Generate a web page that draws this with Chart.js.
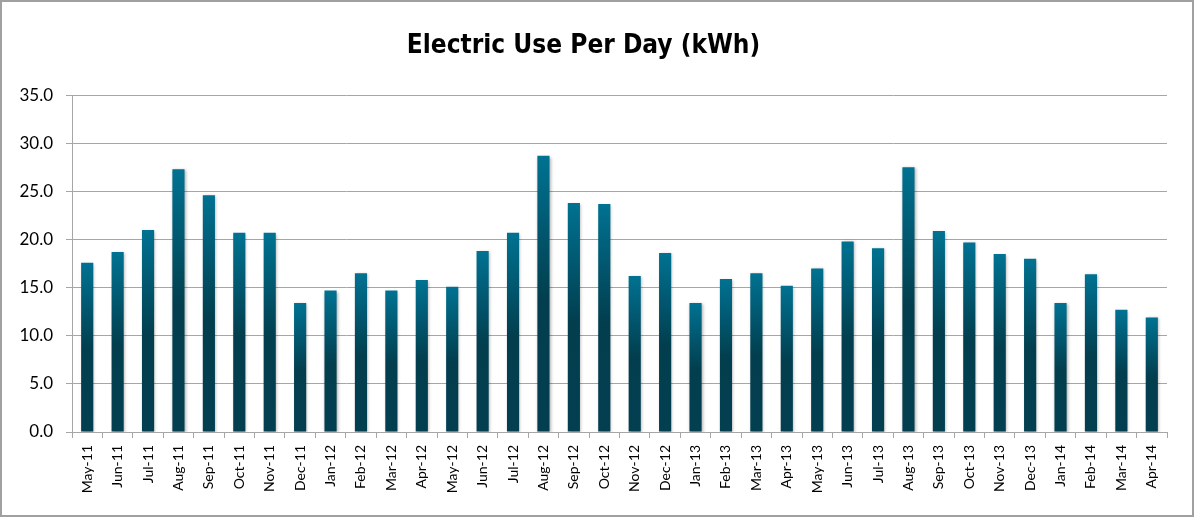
<!DOCTYPE html>
<html>
<head>
<meta charset="utf-8">
<title>Electric Use Per Day (kWh)</title>
<script src="https://cdn.jsdelivr.net/npm/chart.js@4.4.1/dist/chart.umd.min.js"></script>
<style>
  html, body { margin: 0; padding: 0; background: #fff; }
  #wrap { width: 1196px; height: 517px; position: relative; }
</style>
</head>
<body>
<div id="wrap"><canvas id="myChart"></canvas></div>
<script>
const months = ['May-11', 'Jun-11', 'Jul-11', 'Aug-11', 'Sep-11', 'Oct-11', 'Nov-11', 'Dec-11',
  'Jan-12', 'Feb-12', 'Mar-12', 'Apr-12', 'May-12', 'Jun-12', 'Jul-12', 'Aug-12', 'Sep-12', 'Oct-12',
  'Nov-12', 'Dec-12', 'Jan-13', 'Feb-13', 'Mar-13', 'Apr-13', 'May-13', 'Jun-13', 'Jul-13', 'Aug-13',
  'Sep-13', 'Oct-13', 'Nov-13', 'Dec-13', 'Jan-14', 'Feb-14', 'Mar-14', 'Apr-14'];

const kwhPerDay = [17.6, 18.7, 21.0, 27.3, 24.6, 20.7, 20.7, 13.4,
  14.7, 16.5, 14.7, 15.8, 15.1, 18.8, 20.7, 28.7, 23.8, 23.7,
  16.2, 18.6, 13.4, 15.9, 16.5, 15.2, 17.0, 19.8, 19.1, 27.5,
  20.9, 19.7, 18.5, 18.0, 13.4, 16.4, 12.7, 11.9];

const yTicks = [0, 5, 10, 15, 20, 25, 30, 35];

const gridGray = '#a6a6a6';

// per-bar gradient: teal at the top, dark by about the middle
function barFill(context) {
  if (context.type !== 'data') return '#023e4e';
  const chart = context.chart;
  const y = chart.scales.y;
  if (!y) return '#023e4e';
  const top = y.getPixelForValue(context.raw);
  const base = y.getPixelForValue(0);
  if (!isFinite(top) || !isFinite(base) || top === base) return '#023e4e';
  const g = chart.ctx.createLinearGradient(0, top, 0, base);
  g.addColorStop(0, '#007292');
  g.addColorStop(0.52, '#023e4e');
  g.addColorStop(1, '#033f50');
  return g;
}

const frame = {
  id: 'frame',
  beforeDatasetsDraw(chart) {
    const c = chart.ctx;
    c.save();
    c.shadowColor = 'rgba(0,0,0,0.3)';
    c.shadowBlur = 3;
    c.shadowOffsetX = 1;
    c.shadowOffsetY = 1;
  },
  afterDatasetsDraw(chart) {
    chart.ctx.restore();
  },
  afterDraw(chart) {
    const c = chart.ctx;
    c.save();
    c.strokeStyle = '#a0a0a0';
    c.lineWidth = 2;
    c.strokeRect(1, 1, chart.width - 4, chart.height - 2);
    c.restore();
  }
};

const ctx = document.getElementById('myChart');

const chart = new Chart(ctx, {
  type: 'bar',
  data: {
    labels: months,
    datasets: [{
      label: 'kWh per day',
      data: kwhPerDay,
      backgroundColor: barFill,
      borderWidth: 0,
      barPercentage: 0.4,
      categoryPercentage: 1.0
    }]
  },
  options: {
    responsive: true,
    maintainAspectRatio: false,
    animation: false,
    layout: { padding: { left: 0, right: 29, top: 0, bottom: 0 } },
    plugins: {
      legend: { display: false },
      tooltip: { enabled: false },
      title: {
        display: true,
        text: 'Electric Use Per Day (kWh)',
        color: '#000',
        font: { family: '"DejaVu Sans Condensed", Roboto, sans-serif', size: 26, weight: 'bold', lineHeight: 1.2 },
        padding: { top: 31, bottom: 33 }
      }
    },
    scales: {
      x: {
        grid: {
          offset: true,
          drawOnChartArea: false,
          drawTicks: true,
          tickLength: 6,
          color: gridGray
        },
        border: { color: gridGray, width: 1 },
        ticks: {
          autoSkip: false,
          maxRotation: 90,
          minRotation: 90,
          padding: 7,
          color: '#000',
          font: { family: 'Lato, "Open Sans", sans-serif', size: 14 }
        },
        afterFit(scale) { scale.height = 85; }
      },
      y: {
        min: 0,
        max: 35,
        afterBuildTicks(scale) { scale.ticks = yTicks.map(v => ({ value: v })); },
        grid: {
          color: gridGray,
          tickLength: 6,
          lineWidth: 1
        },
        border: { color: gridGray, width: 1 },
        ticks: {
          padding: 13,
          color: '#000',
          font: { family: 'Lato, "Open Sans", sans-serif', size: 17 },
          callback: v => Number(v).toFixed(1)
        },
        afterFit(scale) { scale.width = 72; }
      }
    }
  },
  plugins: [frame]
});
// second pass so the gradients use the laid-out scale
chart.update();
</script>
</body>
</html>
